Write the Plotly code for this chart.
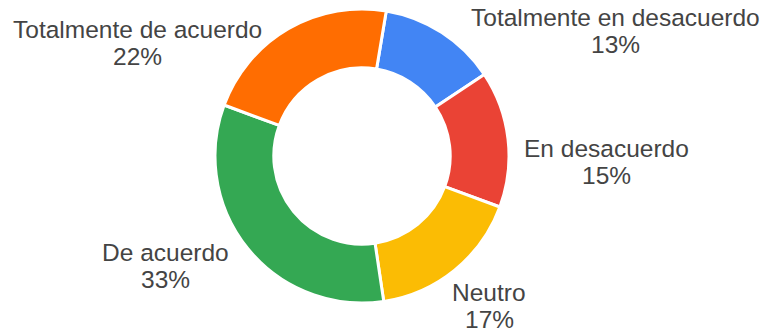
import plotly.graph_objects as go

# Survey responses (percent of respondents)
categories = [
    "Totalmente en desacuerdo",
    "En desacuerdo",
    "Neutro",
    "De acuerdo",
    "Totalmente de acuerdo",
]
percentages = [13, 15, 17, 33, 22]
colors = ["#4285F4", "#EA4335", "#FBBC04", "#34A853", "#FF6D01"]

# Label anchor points in pixels (x, y of the first line), one per category
label_px = [
    (615, 17),
    (606, 148),
    (489, 292),
    (165, 252),
    (137, 29),
]
line_gap = 27.5

W, H = 762, 331
cx, cy, R = 362, 156, 147

fig = go.Figure(
    go.Pie(
        labels=categories,
        values=percentages,
        sort=False,
        direction="clockwise",
        rotation=9.5,
        hole=0.6,
        marker=dict(colors=colors, line=dict(color="white", width=3)),
        textinfo="none",
        showlegend=False,
        domain=dict(
            x=[(cx - R) / W, (cx + R) / W],
            y=[1 - (cy + R) / H, 1 - (cy - R) / H],
        ),
    )
)

font = dict(family="Liberation Sans, Arial, sans-serif", size=24.5, color="#444444")
annotations = []
for name, pct, (lx, ly) in zip(categories, percentages, label_px):
    for i, txt in enumerate([name, f"{pct}%"]):
        annotations.append(
            dict(
                text=txt,
                x=lx / W,
                y=1 - (ly + i * line_gap) / H,
                xref="paper",
                yref="paper",
                xanchor="center",
                yanchor="middle",
                showarrow=False,
                font=font,
            )
        )

fig.update_layout(
    width=W,
    height=H,
    margin=dict(l=0, r=0, t=0, b=0),
    paper_bgcolor="white",
    plot_bgcolor="white",
    annotations=annotations,
)

fig.write_html("out.html")
